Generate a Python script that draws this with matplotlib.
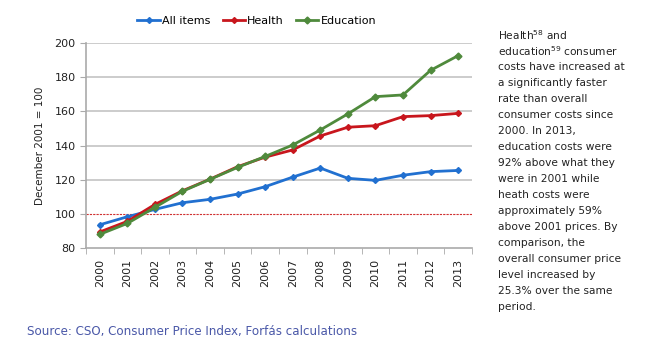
import matplotlib.pyplot as plt

years = ['2000', '2001', '2002', '2003', '2004', '2005', '2006',
         '2007', '2008', '2009', '2010', '2011', '2012', '2013']
all_items = [93.6, 98.3, 102.6, 106.5, 108.5, 111.6, 115.9,
             121.5, 126.8, 120.8, 119.6, 122.6, 124.7, 125.4]
health = [89.4, 95.6, 105.5, 113.5, 120.3, 127.6, 133.2,
          137.4, 145.6, 150.7, 151.6, 156.9, 157.5, 158.8]
education = [88.0, 94.4, 103.8, 113.2, 120.2, 127.2, 133.6,
             140.3, 149.1, 158.5, 168.6, 169.6, 184.0, 192.6]

note_lines = [
    'Health$^{\\mathregular{58}}$ and',
    'education$^{\\mathregular{59}}$ consumer',
    'costs have increased at',
    'a significantly faster',
    'rate than overall',
    'consumer costs since',
    '2000. In 2013,',
    'education costs were',
    '92% above what they',
    'were in 2001 while',
    'heath costs were',
    'approximately 59%',
    'above 2001 prices. By',
    'comparison, the',
    'overall consumer price',
    'level increased by',
    '25.3% over the same',
    'period.',
]

fig = plt.figure(figsize=(6.5, 3.51), dpi=100)
ax = fig.add_axes([0.1323, 0.2934, 0.5937, 0.5841])

x = range(len(years))
ax.plot(x, all_items, color='#2170d0', lw=2, marker='D', ms=3, label='All items')
ax.plot(x, health, color='#c8161d', lw=2, marker='D', ms=3, label='Health')
ax.plot(x, education, color='#4f8a3c', lw=2, marker='D', ms=3.5, label='Education')
ax.axhline(100, color='#d03030', lw=0.8, ls=(0, (2, 1)), zorder=1)

ax.set_xlim(-0.5, len(years) - 0.5)
ax.set_ylim(80, 200)
ax.set_yticks(range(80, 201, 20))
for yv in range(120, 201, 20):
    ax.axhline(yv, color='#c4c4c4', lw=1.2, zorder=0)

ax.set_xticks(list(x))
ax.set_xticklabels(years, rotation=90, fontsize=8, color='#222222')
ax.set_xticks([i - 0.5 for i in range(len(years) + 1)], minor=True)
ax.tick_params(axis='x', which='major', length=0, pad=8)
ax.tick_params(axis='x', which='minor', length=4, color='#aaaaaa')
ax.tick_params(axis='y', labelsize=8, length=4, color='#aaaaaa', labelcolor='#222222')
for s in ['top', 'right']:
    ax.spines[s].set_visible(False)
for s in ['left', 'bottom']:
    ax.spines[s].set_color('#aaaaaa')
    ax.spines[s].set_linewidth(1.2)
ax.set_ylabel('December 2001 = 100', fontsize=7.5, labelpad=7, color='#222222')

fig.legend(loc='center', bbox_to_anchor=(0.395, 0.94), ncol=3, frameon=False,
           fontsize=8, handlelength=2.0, columnspacing=1.1, handletextpad=0.2)

for i, line in enumerate(note_lines):
    fig.text(498 / 650, 1 - (35 + 16 * i) / 351, line, fontsize=7.7,
             color='#222222', va='center', ha='left')

fig.text(27 / 650, 1 - 332 / 351, 'Source: CSO, Consumer Price Index, Forfás calculations',
         fontsize=8.6, color='#4a58a8', va='center', ha='left')

fig.savefig('out.png', dpi=100)
